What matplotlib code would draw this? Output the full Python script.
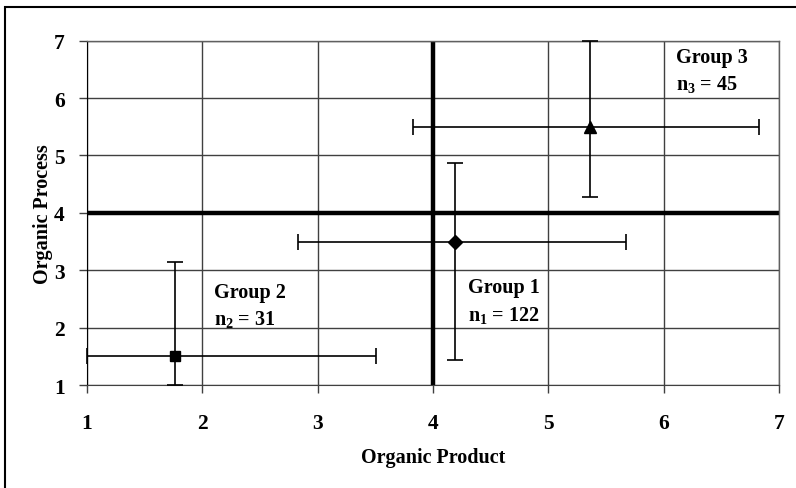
import matplotlib
matplotlib.use("Agg")
import matplotlib.pyplot as plt
from matplotlib.patches import Rectangle

plt.rcParams['font.family'] = ['Liberation Serif', 'DejaVu Serif']
plt.rcParams['font.weight'] = 'bold'
plt.rcParams['mathtext.fontset'] = 'custom'
plt.rcParams['mathtext.rm'] = 'Liberation Serif:bold'
plt.rcParams['mathtext.it'] = 'Liberation Serif:bold'
plt.rcParams['mathtext.bf'] = 'Liberation Serif:bold'

# Group means and error-bar extents (product on x, process on y)
groups = ["Group 1", "Group 2", "Group 3"]
sizes = ["n$_1$ = 122", "n$_2$ = 31", "n$_3$ = 45"]
product_mean = [4.19, 1.76, 5.36]
product_low = [2.83, 1.00, 3.83]
product_high = [5.67, 3.51, 6.83]
process_mean = [3.49, 1.50, 5.49]
process_low = [1.43, 1.00, 4.28]
process_high = [4.87, 3.14, 7.00]
markers = ["D", "s", "^"]
marker_sizes = [7, 7, 8]
label_pos = [(4.30, 2.88), (2.10, 2.80), (6.11, 6.89)]
ticks = [1, 2, 3, 4, 5, 6, 7]
midpoint = 4

fig = plt.figure(figsize=(7.96, 4.89), dpi=100)
ax = fig.add_axes([87 / 796, 1 - 386 / 489, (779 - 87) / 796, (386 - 41.7) / 489])

# outer frame
fig.patches.append(Rectangle((5 / 796, -0.05), 1.2, 1 - 8 / 489 + 0.05,
                             transform=fig.transFigure, fill=False,
                             edgecolor='black', linewidth=1.5, zorder=0))

ax.set_xlim(1, 7)
ax.set_ylim(1, 7)
ax.set_xticks(ticks)
ax.set_yticks(ticks)
ax.grid(True, color='#404040', linewidth=1.0)
ax.set_axisbelow(True)
for side in ['top', 'right']:
    ax.spines[side].set_color('#606060')
    ax.spines[side].set_linewidth(1.0)
ax.spines['left'].set_color('black')
ax.spines['bottom'].set_color('#404040')
ax.tick_params(axis='both', direction='out', length=6, width=1.0,
               labelsize=15.5, color='#404040')
ax.tick_params(axis='x', pad=14)
ax.tick_params(axis='y', pad=10)
for lab in ax.get_xticklabels() + ax.get_yticklabels():
    lab.set_fontweight('bold')

ax.axvline(midpoint, color='black', linewidth=3.2, zorder=2)
ax.axhline(midpoint, color='black', linewidth=3.2, zorder=2)

for i in range(len(groups)):
    xm, ym = product_mean[i], process_mean[i]
    ax.errorbar(xm, ym,
                xerr=[[xm - product_low[i]], [product_high[i] - xm]],
                yerr=[[ym - process_low[i]], [process_high[i] - ym]],
                fmt=markers[i], color='black', markersize=marker_sizes[i],
                ecolor='black', elinewidth=1.2, capsize=6, capthick=1.2,
                zorder=3, clip_on=False)
    lx, ly = label_pos[i]
    ax.text(lx, ly, groups[i] + "\n" + sizes[i], fontsize=14.5, fontweight='bold',
            ha='left', va='top', linespacing=1.4, zorder=4)

ax.set_xlabel("Organic Product", fontsize=14.5, fontweight='bold', labelpad=10)
ax.set_ylabel("Organic Process", fontsize=14.5, fontweight='bold', labelpad=1)

fig.savefig("out.png", dpi=100)
